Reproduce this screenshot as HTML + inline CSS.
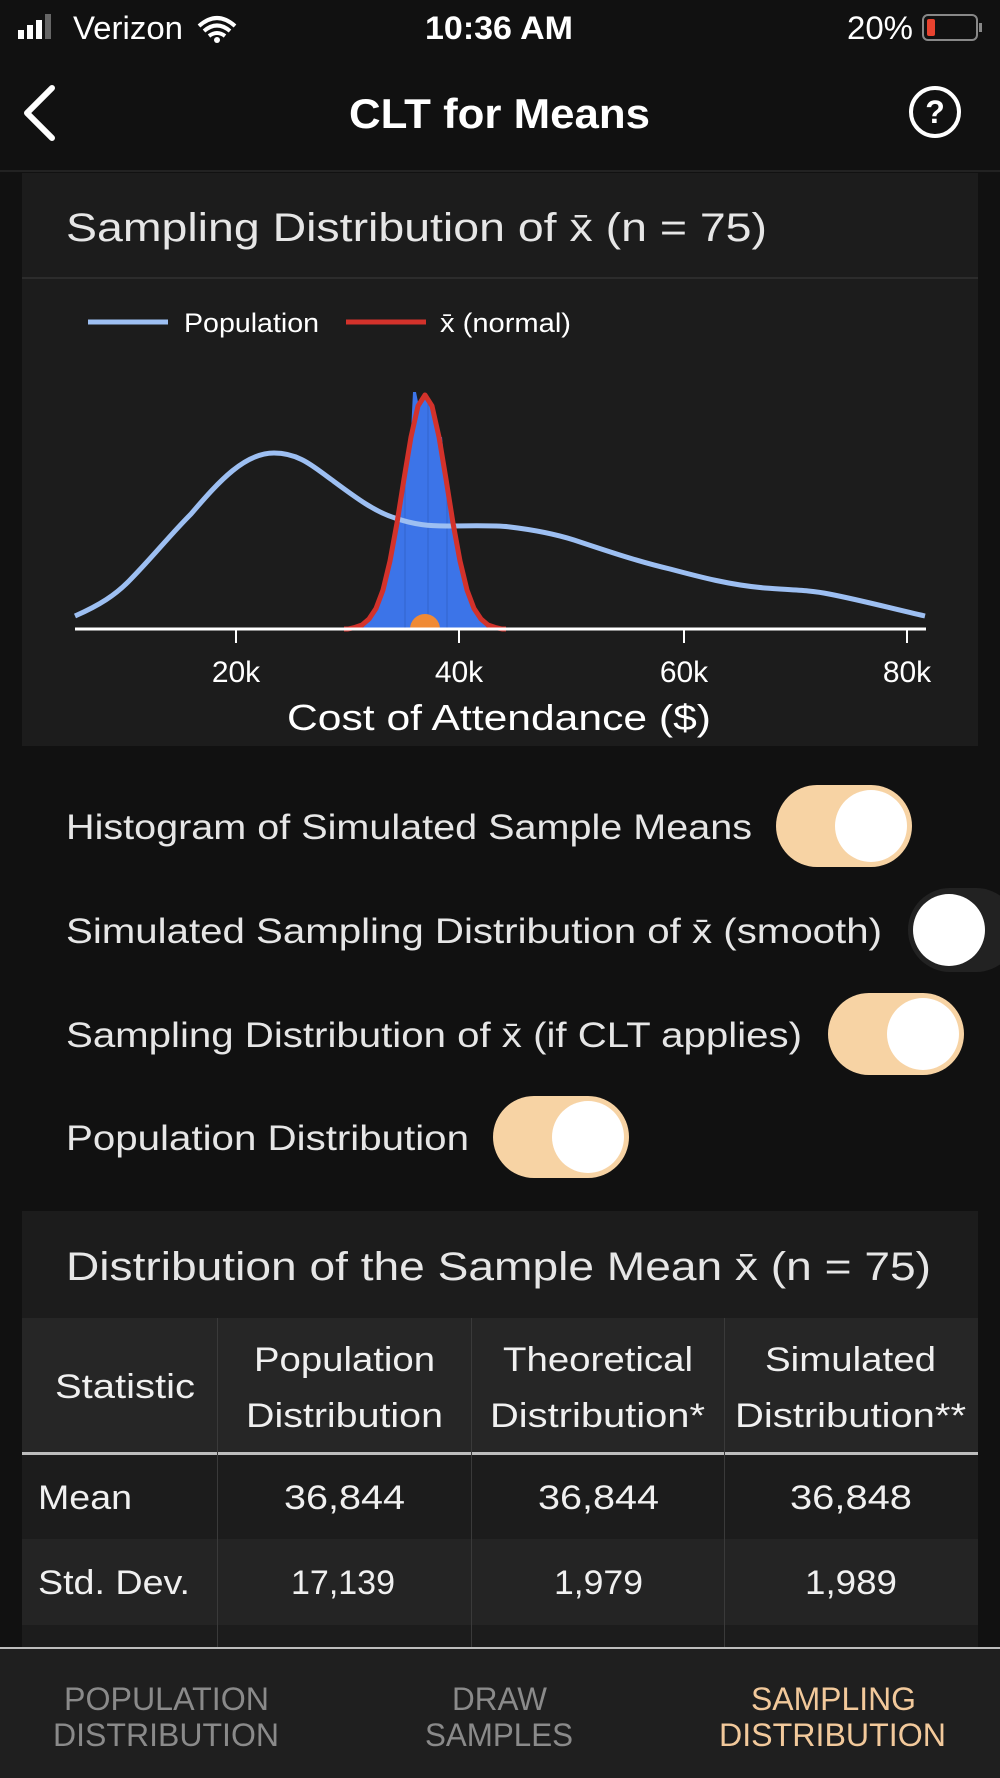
<!DOCTYPE html>
<html><head><meta charset="utf-8"><style>
html,body{margin:0;padding:0;background:#111;}
svg{display:block;}
text{font-family:"Liberation Sans",sans-serif;}
</style></head><body>
<svg width="1000" height="1778" viewBox="0 0 1000 1778" xmlns="http://www.w3.org/2000/svg">
<rect width="1000" height="1778" fill="#111"/>
<!-- status bar -->
<g fill="#fff">
<rect x="18" y="30" width="6" height="9"/><rect x="27" y="25" width="6" height="14"/><rect x="36" y="20" width="6" height="19"/><rect x="45" y="14" width="6" height="25" fill="#666"/>
</g>
<text x="73" y="39" font-size="32" fill="#fff" textLength="110" lengthAdjust="spacingAndGlyphs">Verizon</text>
<path d="M199 26 Q217 10 235 26 M204 31 Q217 20 230 31 M209 36 Q217 30 225 36" stroke="#fff" stroke-width="4" fill="none"/>
<circle cx="217" cy="40" r="3" fill="#fff"/>
<text x="425" y="39" font-size="32" fill="#fff" font-weight="bold" textLength="148" lengthAdjust="spacingAndGlyphs">10:36 AM</text>
<text x="847" y="39" font-size="32" fill="#fff" textLength="66" lengthAdjust="spacingAndGlyphs">20%</text>
<rect x="923" y="15" width="54" height="25" rx="5" fill="none" stroke="#888" stroke-width="2"/>
<rect x="927" y="19" width="8" height="17" rx="2" fill="#e8432f"/>
<rect x="979" y="23" width="3" height="9" fill="#888"/>
<!-- nav -->
<path d="M52 88 L27 113 L52 138" stroke="#fff" stroke-width="6" fill="none" stroke-linecap="round" stroke-linejoin="round"/>
<text x="349" y="128" font-size="42" fill="#fff" font-weight="bold" textLength="301" lengthAdjust="spacingAndGlyphs">CLT for Means</text>
<circle cx="935" cy="112" r="24" fill="none" stroke="#fff" stroke-width="4"/>
<text x="935" y="123" font-size="32" fill="#fff" font-weight="bold" text-anchor="middle">?</text>
<rect x="0" y="170" width="1000" height="2" fill="#222"/>
<!-- card 1 -->
<rect x="22" y="173" width="956" height="573" fill="#1c1c1c"/>
<text x="66" y="241" font-size="40" fill="#e6e6e6" textLength="701" lengthAdjust="spacingAndGlyphs">Sampling Distribution of x̄ (n = 75)</text>
<rect x="22" y="277" width="956" height="2" fill="#2c2c2c"/>
<line x1="88" y1="322" x2="168" y2="322" stroke="#9dbff2" stroke-width="5"/>
<text x="184" y="332" font-size="27" fill="#fff" textLength="135" lengthAdjust="spacingAndGlyphs">Population</text>
<line x1="346" y1="322" x2="426" y2="322" stroke="#d3322b" stroke-width="5"/>
<text x="440" y="332" font-size="27" fill="#fff" textLength="131" lengthAdjust="spacingAndGlyphs">x̄ (normal)</text>
<!-- histogram -->
<polygon fill="#3c74e8" points="362,629 369,619 376,608 383,590 390,561 397,523 404,479 411,432 413,392 416,392 418,402 425,395 432,406 439,437 442,437 446,479 453,523 460,561 467,590 474,608 481,619 488,629"/>
<g stroke="#2c58b8" stroke-width="1" opacity="0.6">
<line x1="405" y1="629" x2="405" y2="470"/><line x1="428" y1="629" x2="428" y2="400"/><line x1="447" y1="629" x2="447" y2="490"/>
</g>
<!-- population curve -->
<path d="M75 616 C100 605 115 595 128 582 C150 560 170 535 191 514 C220 480 245 453 274 453 C300 453 315 468 332 480 C355 497 375 512 395 518 C415 525 430 526 446 526 C470 526 495 525 510 527 C535 530 555 534 574 540 C610 552 640 562 670 569 C700 577 730 585 765 588 C790 590 810 590 829 594 C860 600 890 608 925 616" stroke="#9dbff2" stroke-width="5" fill="none"/>
<!-- normal curve -->
<polyline fill="none" stroke="#d3322b" stroke-width="5" stroke-linejoin="round" points="344,629 348,629 355,627.4 362,625 369,619 376,608.5 383,590 390,561 397,523 404,479 411,437 418,406 425,395 432,406 439,437 446,479 453,523 460,561 467,590 474,608.5 481,619 488,625 495,627.4 502,629 506,629"/>
<path d="M410 629 A15 15 0 0 1 440 629 Z" fill="#f08a35"/>
<!-- axis -->
<line x1="75" y1="629" x2="926" y2="629" stroke="#fff" stroke-width="3"/>
<g stroke="#fff" stroke-width="2"><line x1="236" y1="629" x2="236" y2="643"/><line x1="459" y1="629" x2="459" y2="643"/><line x1="684" y1="629" x2="684" y2="643"/><line x1="907" y1="629" x2="907" y2="643"/></g>
<g font-size="30" fill="#fff" text-anchor="middle">
<text x="236" y="682">20k</text><text x="459" y="682">40k</text><text x="684" y="682">60k</text><text x="907" y="682">80k</text>
</g>
<text x="287" y="730" font-size="36" fill="#fff" textLength="424" lengthAdjust="spacingAndGlyphs">Cost of Attendance ($)</text>
<!-- toggles -->
<g font-size="35" fill="#e6e6e6">
<text x="66" y="839" textLength="686" lengthAdjust="spacingAndGlyphs">Histogram of Simulated Sample Means</text>
<text x="66" y="943" textLength="816" lengthAdjust="spacingAndGlyphs">Simulated Sampling Distribution of x̄ (smooth)</text>
<text x="66" y="1047" textLength="736" lengthAdjust="spacingAndGlyphs">Sampling Distribution of x̄ (if CLT applies)</text>
<text x="66" y="1150" textLength="403" lengthAdjust="spacingAndGlyphs">Population Distribution</text>
</g>
<rect x="776" y="785" width="136" height="82" rx="41" fill="#f7d3a4"/>
<circle cx="871" cy="826" r="36" fill="#fff"/>
<rect x="908" y="888" width="110" height="84" rx="42" fill="#222"/>
<circle cx="949" cy="930" r="36" fill="#fff"/>
<rect x="828" y="993" width="136" height="82" rx="41" fill="#f7d3a4"/>
<circle cx="923" cy="1034" r="36" fill="#fff"/>
<rect x="493" y="1096" width="136" height="82" rx="41" fill="#f7d3a4"/>
<circle cx="588" cy="1137" r="36" fill="#fff"/>
<!-- card 2 -->
<rect x="22" y="1211" width="956" height="440" fill="#1c1c1c"/>
<text x="66" y="1280" font-size="40" fill="#e6e6e6" textLength="865" lengthAdjust="spacingAndGlyphs">Distribution of the Sample Mean x̄ (n = 75)</text>
<rect x="22" y="1318" width="956" height="136" fill="#262626"/>
<rect x="22" y="1454" width="956" height="85" fill="#1c1c1c"/>
<rect x="22" y="1539" width="956" height="86" fill="#242424"/>
<rect x="22" y="1625" width="956" height="26" fill="#1c1c1c"/>
<rect x="22" y="1452" width="956" height="3" fill="#bdbdbd"/>
<g fill="#3a3a3a"><rect x="217" y="1318" width="1" height="333"/><rect x="471" y="1318" width="1" height="333"/><rect x="724" y="1318" width="1" height="333"/></g>
<g font-size="34" fill="#f0f0f0">
<text x="55" y="1398" textLength="140" lengthAdjust="spacingAndGlyphs">Statistic</text>
<text x="254" y="1371" textLength="181" lengthAdjust="spacingAndGlyphs">Population</text>
<text x="246" y="1427" textLength="197" lengthAdjust="spacingAndGlyphs">Distribution</text>
<text x="503" y="1371" textLength="190" lengthAdjust="spacingAndGlyphs">Theoretical</text>
<text x="490" y="1427" textLength="215" lengthAdjust="spacingAndGlyphs">Distribution*</text>
<text x="765" y="1371" textLength="171" lengthAdjust="spacingAndGlyphs">Simulated</text>
<text x="735" y="1427" textLength="231" lengthAdjust="spacingAndGlyphs">Distribution**</text>
<text x="38" y="1509" textLength="94" lengthAdjust="spacingAndGlyphs">Mean</text>
<text x="284" y="1509" textLength="121" lengthAdjust="spacingAndGlyphs">36,844</text>
<text x="538" y="1509" textLength="121" lengthAdjust="spacingAndGlyphs">36,844</text>
<text x="790" y="1509" textLength="122" lengthAdjust="spacingAndGlyphs">36,848</text>
<text x="38" y="1594" textLength="152" lengthAdjust="spacingAndGlyphs">Std. Dev.</text>
<text x="291" y="1594" textLength="104" lengthAdjust="spacingAndGlyphs">17,139</text>
<text x="554" y="1594" textLength="89" lengthAdjust="spacingAndGlyphs">1,979</text>
<text x="805" y="1594" textLength="92" lengthAdjust="spacingAndGlyphs">1,989</text>
</g>
<!-- tab bar -->
<rect x="0" y="1647" width="1000" height="131" fill="#1f1f1f"/>
<rect x="0" y="1647" width="1000" height="2" fill="#bdbdbd"/>
<g font-size="32">
<text x="64" y="1710" fill="#8a8a8a" textLength="205" lengthAdjust="spacingAndGlyphs">POPULATION</text>
<text x="53" y="1746" fill="#8a8a8a" textLength="226" lengthAdjust="spacingAndGlyphs">DISTRIBUTION</text>
<text x="452" y="1710" fill="#8a8a8a" textLength="95" lengthAdjust="spacingAndGlyphs">DRAW</text>
<text x="425" y="1746" fill="#8a8a8a" textLength="148" lengthAdjust="spacingAndGlyphs">SAMPLES</text>
<text x="751" y="1710" fill="#f2c99b" textLength="165" lengthAdjust="spacingAndGlyphs">SAMPLING</text>
<text x="719" y="1746" fill="#f2c99b" textLength="227" lengthAdjust="spacingAndGlyphs">DISTRIBUTION</text>
</g>
</svg>
</body></html>
